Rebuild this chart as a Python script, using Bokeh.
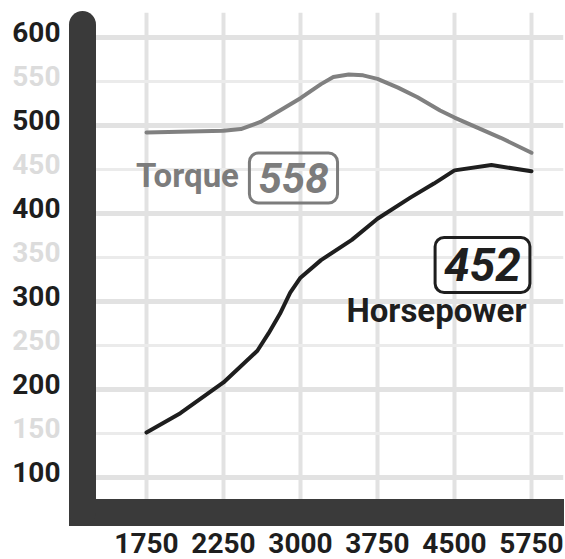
import numpy as np
from bokeh.plotting import figure
from bokeh.models import FixedTicker, Grid, Label, LinearAxis, Range1d
from bokeh.embed import file_html
from bokeh.resources import INLINE

# ---- data ----
rpm_ticks = [1750, 2250, 3000, 3750, 4500, 5750]
rpm_labels = ["1750", "2250", "3000", "3750", "4500", "5750"]

y_dark_ticks = [100, 200, 300, 400, 500, 600]
y_light_ticks = [150, 250, 350, 450, 550]

torque_rpm = [1750, 2250, 2420, 2610, 2800, 3000, 3200, 3320, 3470, 3610, 3750,
              3950, 4140, 4360, 4500, 5250, 5750]
torque = [492, 494, 496, 504, 517, 531, 547, 555, 558, 557, 553,
          543, 532, 517, 509, 486, 469]

hp_rpm = [1750, 1970, 2250, 2580, 2690, 2800, 2900, 3000, 3200, 3500, 3750,
          4070, 4300, 4500, 5100, 5750]
hp = [151, 173, 208, 244, 264, 286, 310, 327, 347, 370, 394,
      418, 434, 449, 455, 448]

torque_peak = "558"
hp_peak = "452"

# the rpm axis is drawn with evenly spaced tick positions
tick_pos = np.arange(len(rpm_ticks))
def pos(r):
    return np.interp(r, rpm_ticks, tick_pos)

DARK = "#1e1e1e"
GRAY = "#7c7c7c"
LIGHT = "#dcdcdc"
BAR = "#3a3a3a"
GRID = "#e2e2e2"
FONT = "Roboto"

PX_X = 77.0    # pixels per rpm tick step
PX_Y = 0.88    # pixels per unit
X0, X1 = -0.831, 5.416
Y0, Y1 = 60.2, 628.4
LABEL_SHIFT = 5 / PX_Y   # value labels sit a little above their grid lines
STANDOFF = 22
LABEL_W = 51             # width taken by a 3-digit value label
BAR_W = 27

p = figure(width=565, height=559, output_backend="svg", toolbar_location=None,
           x_range=Range1d(X0, X1), y_range=Range1d(Y0, Y1),
           min_border_left=82, min_border_right=2, min_border_top=12, min_border_bottom=47)
p.extra_y_ranges = {"labels": Range1d(Y0 - LABEL_SHIFT, Y1 - LABEL_SHIFT)}
p.outline_line_color = None
p.background_fill_color = "white"
p.border_fill_color = "white"

def style_labels(ax, color):
    ax.major_tick_line_color = None
    ax.minor_tick_line_color = None
    ax.major_tick_out = 0
    ax.major_tick_in = 0
    ax.minor_tick_out = 0
    ax.minor_tick_in = 0
    ax.major_label_text_font = FONT
    ax.major_label_text_font_style = "bold"
    ax.major_label_text_font_size = "28px"
    ax.major_label_text_color = color

# x axis: thick bar + rpm labels
xa = p.xaxis[0]
xa.ticker = FixedTicker(ticks=list(tick_pos))
xa.major_label_overrides = {int(i): l for i, l in zip(tick_pos, rpm_labels)}
xa.axis_line_width = BAR_W
xa.axis_line_color = BAR
xa.axis_line_cap = "square"
xa.bounds = (X0, X1 - (BAR_W / 2) / PX_X)
xa.major_label_standoff = 20
style_labels(xa, DARK)

# y axis: thick bar with a rounded top + dark labels
ya = p.yaxis[0]
ya.y_range_name = "labels"
ya.ticker = FixedTicker(ticks=y_dark_ticks)
ya.axis_line_width = BAR_W
ya.axis_line_color = BAR
ya.axis_line_cap = "round"
ya.bounds = (Y0 - LABEL_SHIFT, Y1 - LABEL_SHIFT - (BAR_W / 2 - 1) / PX_Y)
ya.major_label_standoff = STANDOFF
style_labels(ya, DARK)

# light labels in the same column (outer axis pulled back onto the inner one)
ya2 = LinearAxis(y_range_name="labels", ticker=FixedTicker(ticks=y_light_ticks),
                 axis_line_color=None, major_label_standoff=-LABEL_W)
style_labels(ya2, LIGHT)
p.add_layout(ya2, "left")

# grids
p.xgrid.ticker = FixedTicker(ticks=list(tick_pos))
p.xgrid.grid_line_color = GRID
p.xgrid.grid_line_width = 4
yg = p.ygrid[0]
yg.axis = None
yg.ticker = FixedTicker(ticks=y_dark_ticks)
yg.grid_line_color = GRID
yg.grid_line_width = 5
p.add_layout(Grid(dimension=1, ticker=FixedTicker(ticks=y_light_ticks),
                  grid_line_color="#ebebeb", grid_line_width=3))

# curves
p.line(pos(torque_rpm), torque, line_width=4, line_color="#808080",
       line_join="round", line_cap="round")
p.line(pos(hp_rpm), hp, line_width=4, line_color=DARK,
       line_join="round", line_cap="round")

# annotations
p.add_layout(Label(x=0.532, y=442.6, text="Torque", text_align="center", text_baseline="middle",
                   text_font=FONT, text_font_style="bold", text_font_size="33px",
                   text_color=GRAY))
p.add_layout(Label(x=1.909, y=440.3, text=torque_peak, text_align="center", text_baseline="middle",
                   text_font=FONT, text_font_style="bold italic", text_font_size="42px",
                   text_color=GRAY, border_line_color=GRAY, border_line_width=3,
                   border_radius=9, padding=dict(left=9, right=9, top=10, bottom=10)))
p.add_layout(Label(x=4.364, y=341.5, text=hp_peak, text_align="center", text_baseline="middle",
                   text_font=FONT, text_font_style="bold italic", text_font_size="46px",
                   text_color=DARK, border_line_color=DARK, border_line_width=3,
                   border_radius=9, padding=dict(left=9, right=9, top=11, bottom=11)))
p.add_layout(Label(x=3.766, y=289.2, text="Horsepower", text_align="center", text_baseline="middle",
                   text_font=FONT, text_font_style="bold", text_font_size="33px",
                   text_color=DARK))

open("out.html", "w").write(file_html(p, INLINE))
